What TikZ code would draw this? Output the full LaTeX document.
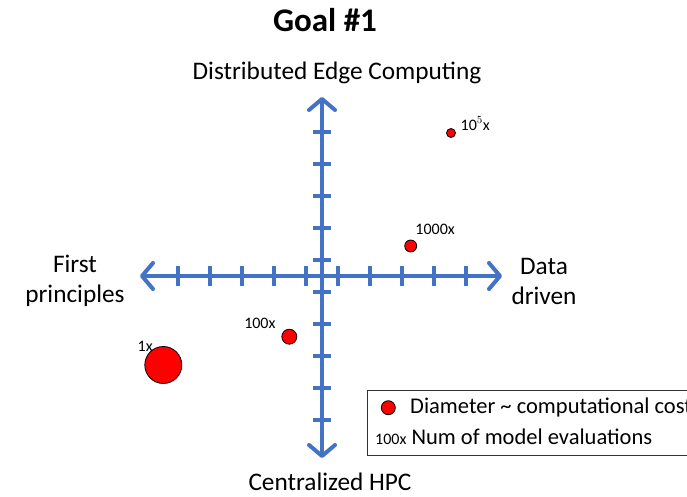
\documentclass[tikz,border=0pt]{standalone}
\usepackage{fontspec}
\setmainfont{Carlito}
\usepackage{xcolor}
\usepackage{tikz}
\usetikzlibrary{arrows.meta,positioning,calc}
\definecolor{axblue}{RGB}{68,114,196}

\begin{document}
\begin{tikzpicture}[
  x=1pt, y=-1pt,
  font=\fontsize{25.3}{30}\selectfont,
  >={Straight Barb[length=11pt,width=26pt,round]},
  ax/.style={draw=axblue, line width=4pt},
  dot/.style={circle, draw, fill=red, inner sep=0pt, line width=0.8pt},
  lbl/.style={inner sep=0pt, font=\fontsize{16}{19}\selectfont},
  pole/.style={align=center, inner sep=0pt},
  legbox/.style={draw=black!80, line width=1.2pt, anchor=north west, inner sep=0pt,
    minimum width=360pt, minimum height=65pt},
]
\useasboundingbox (0,0) rectangle (687,497);

\node[font=\fontsize{33}{36}\selectfont\bfseries] (title) at (325,20) {Goal \#1};

\coordinate (o) at (322,276);
\coordinate (west) at (140,276);
\coordinate (east) at (502,276);
\coordinate (north) at (322,97);
\coordinate (south) at (322,458);

\draw[ax, <->] (west) -- (east);
\draw[ax, <->] (south) -- (north);
\foreach \d in {16,48,80,112,144} {
  \foreach \s in {-1,1} {
    \draw[ax] ($(o)+(\s*\d,-10)$) -- ($(o)+(\s*\d,10)$);
    \draw[ax] ($(o)+(-9,\s*\d)$) -- ($(o)+(9,\s*\d)$);
  }
}

\node[pole] (top) at (337,73) {Distributed Edge Computing};
\node[pole] (bot) at (330,482) {Centralized HPC};
\node[pole] (left) at (75,281) {First\\principles};
\node[pole] (right) at (544,281) {Data\\driven};

\node[dot, minimum size=9pt]  (d5) at (451,133) {};
\node[dot, minimum size=12pt] (d3) at (410.7,246) {};
\node[dot, minimum size=15pt] (d2) at (289.3,336.7) {};
\node[dot, minimum size=37pt] (d1) at (163.3,365) {};

\node[lbl, above right=-1pt and 6pt of d5] {10$^{\scriptstyle 5}$x};
\node[lbl, above right=7pt and 0pt of d3] {1000x};
\node[lbl, above left=2pt and 8pt of d2] {100x};
\node[lbl, above left=0pt and -3pt of d1] {1x};

\node[legbox] (leg) at (367,390) {};
\node[dot, minimum size=14pt] (ldot) at (388.3,407.7) {};
\node[anchor=west, inner sep=0pt, font=\fontsize{22.5}{26}\selectfont] (ltxt) at (410,407)
  {Diameter \textasciitilde{} computational cost};
\node[anchor=west, inner sep=0pt, font=\fontsize{22.5}{26}\selectfont] (lnum) at (375,437)
  {{\fontsize{16}{19}\selectfont 100x} Num of model evaluations};
\end{tikzpicture}
\end{document}
